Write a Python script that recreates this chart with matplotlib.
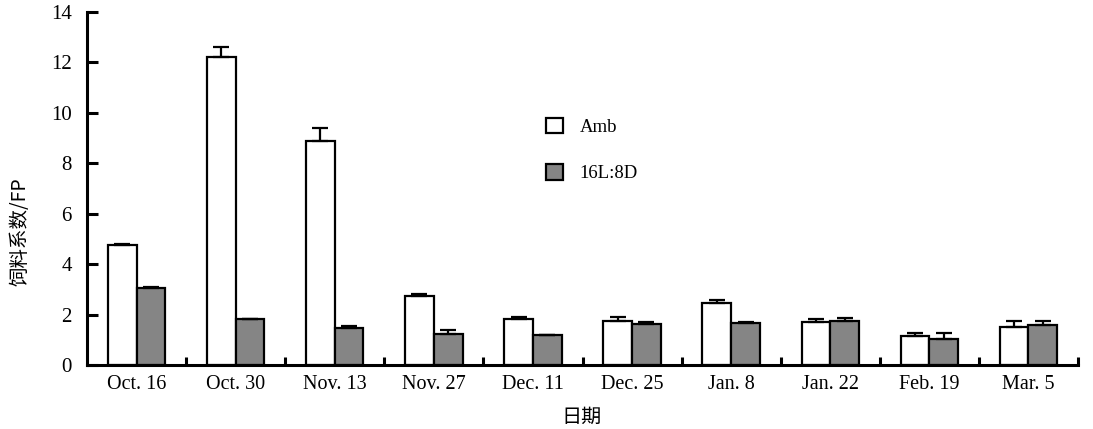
"""饲料系数 (FP) の日期別棒グラフ: Amb と 16L:8D の比較、上側のみの誤差棒付き。"""

import matplotlib

matplotlib.use("Agg")
import matplotlib.pyplot as plt  # noqa: E402
import numpy as np  # noqa: E402

plt.rcParams["font.family"] = ["Liberation Serif", "Noto Sans CJK SC", "DejaVu Sans"]

dates = ["Oct. 16", "Oct. 30", "Nov. 13", "Nov. 27", "Dec. 11",
         "Dec. 25", "Jan. 8", "Jan. 22", "Feb. 19", "Mar. 5"]
amb = [4.75, 12.2, 8.87, 2.73, 1.82, 1.74, 2.45, 1.70, 1.15, 1.50]
amb_err = [0.05, 0.40, 0.53, 0.07, 0.08, 0.16, 0.15, 0.12, 0.12, 0.24]
ld = [3.05, 1.82, 1.47, 1.23, 1.19, 1.62, 1.66, 1.74, 1.03, 1.58]
ld_err = [0.04, 0.02, 0.08, 0.17, 0.0, 0.08, 0.04, 0.11, 0.24, 0.16]

WIDTH = 0.29
GRAY = "#858585"
LW = 1.6

fig = plt.figure(figsize=(10.93, 4.29), dpi=100)
ax = fig.add_axes([0.0796, 0.149, 0.9067, 0.823])

x = np.arange(len(dates)) + 0.5
err_kw = {"ecolor": "black", "elinewidth": LW, "capsize": 6, "capthick": LW}
ax.bar(x - WIDTH / 2, amb, WIDTH, color="white", edgecolor="black", linewidth=LW,
       yerr=[np.zeros(len(amb)), amb_err], error_kw=err_kw, label="Amb")
ax.bar(x + WIDTH / 2, ld, WIDTH, color=GRAY, edgecolor="black", linewidth=LW,
       yerr=[np.zeros(len(ld)), ld_err], error_kw=err_kw, label="16L:8D")

ax.set_xlim(0, len(dates))
ax.set_ylim(0, 14)
ax.set_yticks(range(0, 15, 2))
ax.tick_params(axis="y", direction="in", length=8, width=2.2, pad=11, labelsize=15)
ax.set_xticks(x)
ax.set_xticklabels(dates)
ax.tick_params(axis="x", which="major", length=0, pad=7, labelsize=14.5)
# 日期ごとの区切り目盛り
ax.set_xticks(np.arange(1, len(dates) + 1), minor=True)
ax.tick_params(axis="x", which="minor", direction="in", length=6, width=2.2)

for side in ("top", "right"):
    ax.spines[side].set_visible(False)
for side in ("left", "bottom"):
    ax.spines[side].set_linewidth(2.2)

fig.text(0.018, 0.46, "饲料系数/FP", rotation=90, ha="center", va="center",
         fontsize=14, family=["Noto Sans CJK SC"])
fig.text(0.532, 0.028, "日期", ha="center", va="center", fontsize=14.5,
         family=["Noto Sans CJK SC"])

ax.legend(loc="upper left", bbox_to_anchor=(0.446, 0.748), frameon=False,
          fontsize=13.5, handlelength=0.9, handleheight=0.9, labelspacing=1.5,
          handletextpad=0.9)

fig.savefig("out.png", dpi=100)
